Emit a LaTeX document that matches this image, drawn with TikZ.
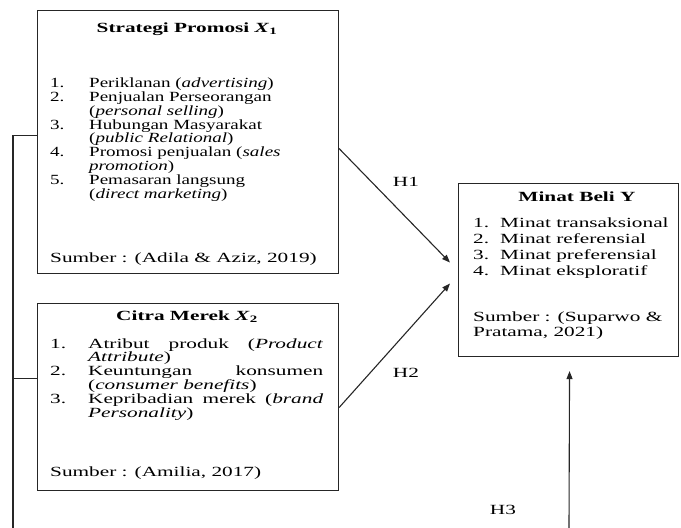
\documentclass[tikz,border=0pt]{standalone}
\usepackage{fontspec}
\setmainfont{Liberation Serif}[FakeStretch=1.52]
\newfontfamily\listfont{Liberation Serif}[FakeStretch=1.36]
\usetikzlibrary{arrows.meta,calc}
\begin{document}
\begin{tikzpicture}[x=1pt,y=-1pt,
  box/.style={draw=black!85, line width=1.1pt, inner sep=0pt, anchor=north west},
  txt/.style={inner sep=0pt, anchor=base west, font=\fontsize{14}{13.8}\selectfont\listfont},
  wtxt/.style={inner sep=0pt, anchor=base west, font=\fontsize{14}{13.6}\selectfont},
  ytxt/.style={inner sep=0pt, anchor=base west, font=\fontsize{14}{16}\selectfont},
  stxt/.style={inner sep=0pt, anchor=base west, font=\fontsize{14}{15}\selectfont},
  ttl/.style={inner sep=0pt, anchor=base, font=\fontsize{14}{13.8}\selectfont\bfseries},
  conn/.style={draw=black!85, line width=1.1pt},
  arr/.style={conn, -{Triangle[length=8pt,width=6pt]}},
  hlab/.style={inner sep=0pt, font=\fontsize{14}{14}\selectfont}]
\useasboundingbox (0,0) rectangle (681,528);
% boxes
\node[box, minimum width=301pt, minimum height=263pt] (x1) at (37,10) {};
\node[box, minimum width=301pt, minimum height=187pt] (x2) at (37,303) {};
\node[box, minimum width=220pt, minimum height=173pt] (y) at (458,183) {};
% X1 content
\node[ttl] (x1t) at (187,32) {Strategi Promosi \textit{X}\textsubscript{1}};
\node[txt] (x1l) at (50,87.5) {\begin{tabular}[t]{@{}p{39pt}@{}l@{}}
1. & Periklanan (\textit{advertising})\\
2. & Penjualan Perseorangan\\
   & (\textit{personal selling})\\
3. & Hubungan Masyarakat\\
   & (\textit{public Relational})\\
4. & Promosi penjualan (\textit{sales}\\
   & \textit{promotion})\\
5. & Pemasaran langsung\\
   & (\textit{direct marketing})
\end{tabular}};
\node[stxt] (x1s) at (50,262.5) {Sumber : (Adila \& Aziz, 2019)};
% X2 content
\node[ttl] (x2t) at (187,320) {Citra Merek \textit{X}\textsubscript{2}};
\node[wtxt] (x2l) at (50,348) {\begin{tabular}[t]{@{}p{38pt}@{}l@{}}
1. & \makebox[235pt][s]{Atribut produk (\textit{Product}}\\
   & \textit{Attribute})\\
2. & \makebox[235pt][s]{Keuntungan konsumen}\\
   & (\textit{consumer benefits})\\
3. & \makebox[235pt][s]{Kepribadian merek (\textit{brand}}\\
   & \textit{Personality})
\end{tabular}};
\node[stxt] (x2s) at (50,476.5) {Sumber : (Amilia, 2017)};
% Y content
\node[ttl] (yt) at (577,201.5) {Minat Beli Y};
\node[ytxt] (yl) at (473,227.5) {\begin{tabular}[t]{@{}p{27pt}@{}l@{}}
1. & Minat transaksional\\
2. & Minat referensial\\
3. & Minat preferensial\\
4. & Minat eksploratif
\end{tabular}};
\node[stxt] (ys) at (473,321.5) {\begin{tabular}[t]{@{}l@{}}
Sumber : (Suparwo \&\\
Pratama, 2021)
\end{tabular}};
% labels
\node[hlab] (h1) at (406,182) {H1};
\node[hlab] (h2) at (406,373) {H2};
\node[hlab] (h3) at (503,510) {H3};
% connectors
\draw[arr] ([yshift=-6.5pt]x1.east) -- ([shift={(-8pt,7.5pt)}]y.west);
\draw[arr] ([yshift=-10.5pt]x2.east) -- ([shift={(-8pt,-13.5pt)}]y.west);
\coordinate (h3b) at (569,528);
\draw[arr] (h3b) -- ([shift={(1pt,-14pt)}]y.south);
\coordinate (lb) at (13,528);
\coordinate (x1c) at ([yshift=6.5pt]x1.west);
\coordinate (x2c) at ([yshift=18.5pt]x2.west);
\draw[conn] (x1c) -| (lb);
\draw[conn] (x2c) -- (x2c -| lb);
\end{tikzpicture}
\end{document}
